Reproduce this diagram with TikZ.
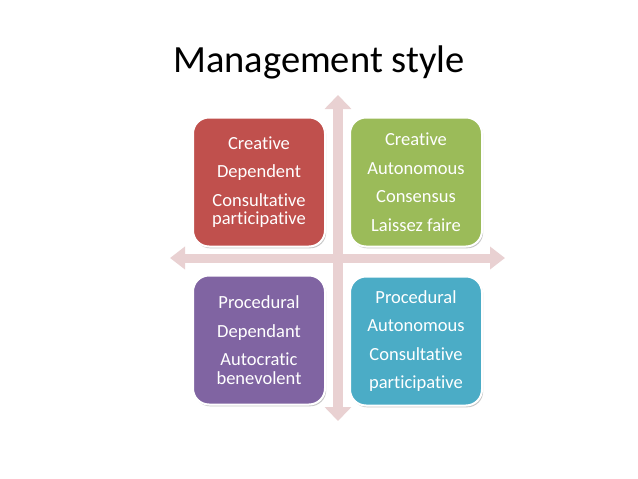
\documentclass[tikz,border=0pt]{standalone}
\usepackage{fontspec}
\setmainfont{Carlito}[Ligatures={NoCommon}]
\usetikzlibrary{arrows.meta,shadows}
\definecolor{arrowpink}{HTML}{E9D1D2}
\definecolor{qred}{HTML}{C0504D}
\definecolor{qgreen}{HTML}{9BBB59}
\definecolor{qpurple}{HTML}{8064A2}
\definecolor{qblue}{HTML}{4BACC6}
\tikzset{
  quad/.style={draw=white, line width=2pt, rounded corners=16pt,
    minimum width=132pt, minimum height=129pt, align=center, text=white,
    font=\fontsize{18.5}{28.5}\selectfont, inner sep=0pt,
    drop shadow={shadow xshift=1.2pt, shadow yshift=-1.8pt, fill=black, opacity=0.22}},
  axis/.style={draw=arrowpink, line width=10pt},
}
\begin{document}
\begin{tikzpicture}[x=1pt,y=1pt]
\useasboundingbox[fill=white] (0,0) rectangle (638,-479);
\node[anchor=base west, inner sep=0pt, font=\fontsize{38.5}{40}\selectfont] (title) at (173,-72) {Management style};
% axes
\coordinate (top) at (338,-95);
\coordinate (bottom) at (338,-421);
\coordinate (left) at (170,-258);
\coordinate (right) at (505,-258);
\draw[axis, {Triangle[width=26pt,length=14pt]}-{Triangle[width=26pt,length=14pt]}] (top) -- (bottom);
\draw[axis, line width=9pt, {Triangle[width=22pt,length=15pt]}-{Triangle[width=22pt,length=15pt]}] (left) -- (right);
% boxes
\node[quad, fill=qred] (cd) at (259,-182) {Creative\\Dependent\\Consultative\\[-10pt]participative};
\node[quad, fill=qgreen] (ca) at (416,-182) {Creative\\Autonomous\\Consensus\\Laissez faire};
\node[quad, fill=qpurple] (pd) at (259,-340) {Procedural\\Dependant\\Autocratic\\[-10pt]benevolent};
\node[quad, fill=qblue] (pa) at (416,-341) {Procedural\\Autonomous\\Consultative\\participative};
\end{tikzpicture}
\end{document}
